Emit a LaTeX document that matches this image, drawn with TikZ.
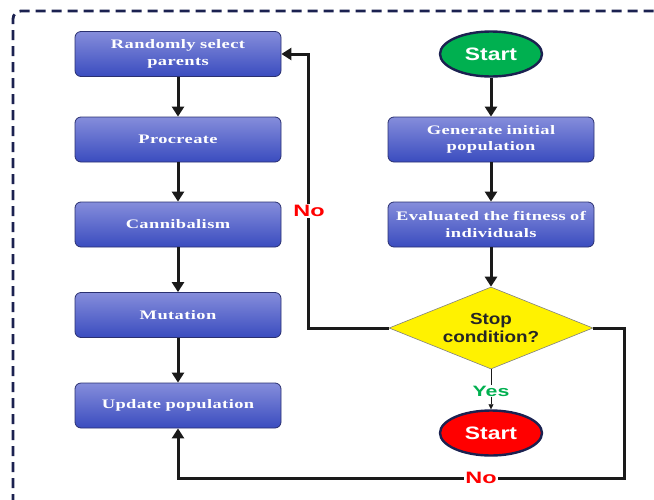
\documentclass[tikz,border=0pt]{standalone}
\usepackage{fontspec}
\setmainfont{Liberation Serif}
\setsansfont{Liberation Sans}
\newfontfamily\boxfont{Liberation Serif}[FakeStretch=1.42, LetterSpace=3]
\newfontfamily\lblfont{Liberation Sans}[FakeStretch=1.42]
\newfontfamily\termfont{Liberation Sans}[FakeStretch=1.27]
\newfontfamily\decfont{Liberation Sans}[FakeStretch=1.18]
\usetikzlibrary{shapes.geometric,arrows.meta,calc}
\definecolor{navy}{HTML}{1B2150}
\definecolor{boxtop}{HTML}{858DDB}
\definecolor{boxbot}{HTML}{3A4CBF}
\definecolor{boxedge}{HTML}{2A3070}
\definecolor{gogreen}{HTML}{00B050}
\definecolor{yesgreen}{HTML}{00B050}
\definecolor{arrowc}{HTML}{1A1A1A}
\tikzset{
  procbox/.style={draw=boxedge, line width=0.8pt, rounded corners=6pt,
    top color=boxtop, bottom color=boxbot, shading angle=0,
    minimum width=206pt, minimum height=45pt, inner xsep=1pt, text width=200pt, align=center,
    text=white, font=\boxfont\bfseries\fontsize{13}{16.5}\selectfont},
  term/.style={ellipse, draw=navy, line width=2.4pt, minimum width=102pt, minimum height=45pt,
    inner sep=0pt, text=white, font=\termfont\bfseries\fontsize{18}{20}\selectfont},
  decis/.style={diamond, aspect=2.5, draw=gray, line width=0.6pt, fill=yellow,
    minimum width=204pt, minimum height=82pt, inner sep=0pt, align=center,
    font=\decfont\bfseries\fontsize{16}{17.5}\selectfont, text=black!85},
  arr/.style={draw=arrowc, line width=3pt, -{Triangle[length=10pt,width=12pt]}},
  nolbl/.style={fill=white, inner sep=1pt, text=red, font=\lblfont\bfseries\fontsize{16.5}{18}\selectfont},
}
\begin{document}
\begin{tikzpicture}[x=1pt,y=-1pt]
\useasboundingbox (0,0) rectangle (654,499);
\begin{scope}
\clip (0,0) rectangle (654,499);
\draw[navy, line width=2.8pt, dash pattern=on 10pt off 6pt, rounded corners=8pt] (13,520) -- (13,11) -- (680,11);
\end{scope}

% left column
\node[procbox] (b1) at (178,54) {Randomly select\\parents};
\node[procbox] (b2) at (178,139.5) {Procreate};
\node[procbox] (b3) at (178,224.5) {Cannibalism};
\node[procbox] (b4) at (178,315) {Mutation};
\node[procbox] (b5) at (178,405.5) {Update population};

% right column
\node[term, fill=gogreen] (s) at (491,54) {Start};
\node[procbox] (g) at (491,139.5) {Generate initial\\population};
\node[procbox] (e) at (491,224.5) {Evaluated the fitness of\\individuals};
\node[decis] (d) at (491,328) {Stop\\condition?};
\node[term, fill=red] (t) at (491,433) {Start};

\draw[arr] (b1) -- (b2);
\draw[arr] (b2) -- (b3);
\draw[arr] (b3) -- (b4);
\draw[arr] (b4) -- (b5);
\draw[arr] (s) -- (g);
\draw[arr] (g) -- (e);
\draw[arr] (e) -- (d);

% yes branch
\draw[arrowc, line width=0.6pt, -{Triangle[length=5pt,width=5pt]}] (d.south) -- (t.north);
\node[fill=white, inner sep=1pt, text=yesgreen, font=\lblfont\bfseries\fontsize{15}{17}\selectfont] (yes) at (491,391) {Yes};

% no loops
\coordinate (lc) at (308,54);
\draw[arr] (d.west) -- (d.west -| lc) -- (lc) -- (b1.east);
\node[nolbl] (no1) at (309,211) {No};
\coordinate (rc) at (624,478);
\draw[arr] (d.east) -- (d.east -| rc) -- (rc) -- (b5.south |- rc) -- (b5.south);
\node[nolbl] (no2) at (481,478) {No};
\end{tikzpicture}
\end{document}
